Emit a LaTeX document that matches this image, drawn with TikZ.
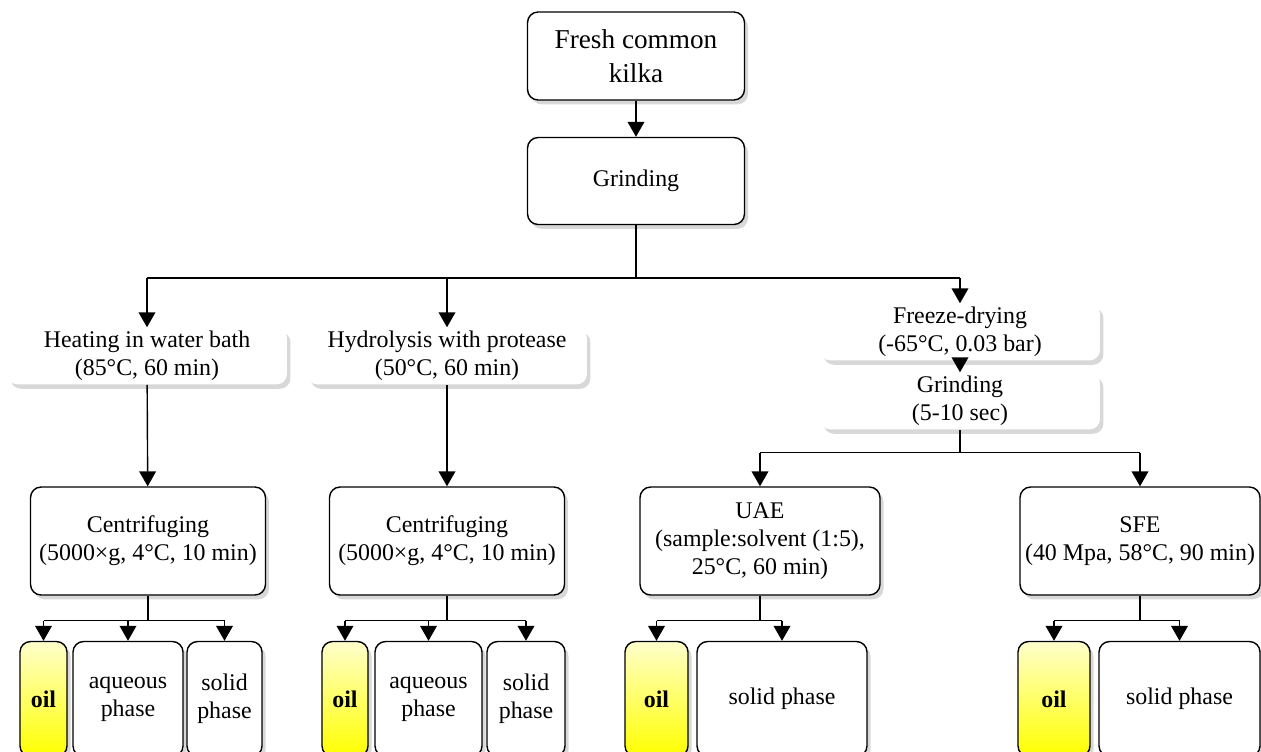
\documentclass[tikz,border=0pt]{standalone}
\usepackage{fontspec}
\setmainfont{Liberation Serif}
\usetikzlibrary{arrows.meta,shadows}

\tikzset{
  base/.style={align=center, rounded corners=6pt, fill=white, inner sep=2pt,
    drop shadow={shadow xshift=2pt, shadow yshift=-2.5pt, opacity=0.3},
    font=\fontsize{13.6}{16}\selectfont},
  framed/.style={base, draw=black, line width=0.8pt},
  plain/.style={base},
  phase/.style={framed, minimum height=2.3cm},
  oilbox/.style={phase, top color=yellow!20, bottom color=yellow, font=\fontsize{13.6}{16}\selectfont\bfseries},
  arr/.style={line width=0.8pt, -{Triangle[length=8.5pt,width=9.5pt]}},
  ln/.style={line width=0.8pt}
}

\begin{document}
\begin{tikzpicture}[x=0.02cm,y=-0.02cm]
\useasboundingbox (0,0) rectangle (1261,751);
\clip (0,0) rectangle (1261,751);
\fill[white] (0,0) rectangle (1261,751);

\node[framed, minimum width=4.34cm, minimum height=1.76cm, font=\fontsize{15.5}{19}\selectfont] (fresh) at (636,56) {Fresh common\\kilka};
\node[framed, minimum width=4.34cm, minimum height=1.74cm] (grind) at (636,181) {Grinding};

\node[plain, minimum width=5.6cm, minimum height=0.96cm] (heat) at (147,356) {Heating in water bath\\(85°C, 60 min)};
\node[plain, minimum width=5.6cm, minimum height=0.96cm] (hydro) at (447,356) {Hydrolysis with protease\\(50°C, 60 min)};
\node[plain, minimum width=5.6cm, minimum height=1.0cm] (freeze) at (960,332) {Freeze-drying\\(-65°C, 0.03 bar)};
\node[plain, minimum width=5.6cm, minimum height=0.94cm] (grindb) at (960,401) {Grinding\\(5-10 sec)};

\node[framed, minimum width=4.7cm, minimum height=2.16cm] (centa) at (148,541) {Centrifuging\\(5000×g, 4°C, 10 min)};
\node[framed, minimum width=4.7cm, minimum height=2.16cm] (centb) at (447,541) {Centrifuging\\(5000×g, 4°C, 10 min)};
\node[framed, minimum width=4.8cm, minimum height=2.16cm] (uae) at (760,541) {UAE\\(sample:solvent (1:5),\\25°C, 60 min)};
\node[framed, minimum width=4.8cm, minimum height=2.16cm] (sfe) at (1140,541) {SFE\\(40 Mpa, 58°C, 90 min)};

\node[oilbox, minimum width=0.94cm] (oila) at (43.5,699) {oil};
\node[phase, minimum width=2.2cm] (aqa) at (128,699) {aqueous\\phase};
\node[phase, minimum width=1.5cm] (sola) at (224.5,699) {solid\\phase};
\node[oilbox, minimum width=0.92cm] (oilb) at (345,699) {oil};
\node[phase, minimum width=2.14cm] (aqb) at (428.5,699) {aqueous\\phase};
\node[phase, minimum width=1.56cm] (solb) at (526,699) {solid\\phase};
\node[oilbox, minimum width=1.26cm] (oilc) at (656.5,699) {oil};
\node[phase, minimum width=3.4cm] (solc) at (782,699) {solid phase};
\node[oilbox, minimum width=1.44cm] (oild) at (1054,699) {oil};
\node[phase, minimum width=3.22cm] (sold) at (1179.5,699) {solid phase};

\draw[arr] (fresh) -- (grind);
\draw[ln] (grind.south) -- ++(0,53) coordinate (bar);
\draw[ln] (bar -| heat.north) -- (bar -| freeze.north);
\draw[arr] (bar -| heat.north) -- (heat.north);
\draw[arr] (bar -| hydro.north) -- (hydro.north);
\draw[arr] (bar -| freeze.north) -- (freeze.north);
\draw[arr] (freeze) -- (grindb);
\draw[ln] (grindb.south) -- ++(0,23) coordinate (barb);
\draw[ln] (barb -| uae.north) -- (barb -| sfe.north);
\draw[arr] (barb -| uae.north) -- (uae.north);
\draw[arr] (barb -| sfe.north) -- (sfe.north);
\draw[arr] (heat) -- (centa);
\draw[arr] (hydro) -- (centb);

\draw[ln] (centa.south) -- ++(0,25) coordinate (ca);
\draw[ln] (ca -| oila.north) -- (ca -| sola.north);
\foreach \n in {oila,aqa,sola} \draw[arr] (ca -| \n.north) -- (\n.north);
\draw[ln] (centb.south) -- ++(0,25) coordinate (cb);
\draw[ln] (cb -| oilb.north) -- (cb -| solb.north);
\foreach \n in {oilb,aqb,solb} \draw[arr] (cb -| \n.north) -- (\n.north);
\draw[ln] (uae.south) -- ++(0,25) coordinate (cc);
\draw[ln] (cc -| oilc.north) -- (cc -| solc.north);
\foreach \n in {oilc,solc} \draw[arr] (cc -| \n.north) -- (\n.north);
\draw[ln] (sfe.south) -- ++(0,25) coordinate (cd);
\draw[ln] (cd -| oild.north) -- (cd -| sold.north);
\foreach \n in {oild,sold} \draw[arr] (cd -| \n.north) -- (\n.north);
\end{tikzpicture}
\end{document}
